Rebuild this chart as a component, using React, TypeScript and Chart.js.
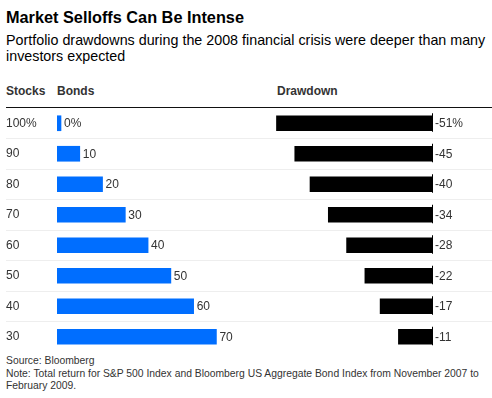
import React, { useEffect, useRef } from 'react';
import { Chart, registerables } from 'chart.js';

Chart.register(...registerables);

const stocks = ['100%', '90', '80', '70', '60', '50', '40', '30'];
const bonds = [0, 10, 20, 30, 40, 50, 60, 70];
const drawdown = [-51, -45, -40, -34, -28, -22, -17, -11];

const FONT = '"Liberation Sans", Arial, Helvetica, sans-serif';
const BLUE = '#006eff';
const TEXT = '#333333';

export default function App() {
  const ref = useRef<HTMLCanvasElement>(null);

  useEffect(() => {
    if (!ref.current) return;
    const labelPlugin = {
      id: 'valueLabels',
      afterDatasetsDraw(chart: any) {
        const ctx = chart.ctx;
        ctx.save();
        ctx.font = `12px ${FONT}`;
        ctx.textBaseline = 'middle';
        ctx.textAlign = 'left';
        const m0 = chart.getDatasetMeta(0);
        m0.data.forEach((el: any, i: number) => {
          ctx.fillStyle = TEXT;
          ctx.fillText(`${bonds[i]}${i === 0 ? '%' : ''}`, el.x + 3, el.y + 0.5);
        });
        const x2 = chart.scales.x2;
        const zero = Math.round(x2.getPixelForValue(0));
        const m1 = chart.getDatasetMeta(1);
        m1.data.forEach((el: any, i: number) => {
          ctx.fillStyle = '#000';
          ctx.fillRect(zero, el.y - 10, 1, 18.5);
          ctx.fillStyle = TEXT;
          ctx.fillText(`${drawdown[i]}${i === 0 ? '%' : ''}`, zero + 3, el.y + 0.5);
        });
        ctx.restore();
      },
    };

    const chart = new Chart(ref.current, {
      type: 'bar',
      data: {
        labels: stocks,
        datasets: [
          {
            label: 'Bonds',
            data: bonds,
            backgroundColor: BLUE,
            xAxisID: 'x',
            grouped: false,
            barThickness: 15,
            minBarLength: 4,
            clip: 0,
          } as any,
          {
            label: 'Drawdown',
            data: drawdown,
            backgroundColor: '#000000',
            xAxisID: 'x2',
            grouped: false,
            barThickness: 15,
          } as any,
        ],
      },
      options: {
        indexAxis: 'y',
        responsive: false,
        animation: false,
        layout: { padding: { left: 6, right: 0, top: 0, bottom: 0 } },
        plugins: {
          legend: { display: false },
          tooltip: { enabled: false },
          title: { display: false },
        },
        scales: {
          x: { type: 'linear', axis: 'x', display: false, min: 0, max: 191 },
          x2: { type: 'linear', axis: 'x', display: false, min: -123, max: 19.7 },
          y: {
            position: 'left',
            afterFit: (s: any) => {
              s.width = 51;
              s.paddingTop = 0;
              s.paddingBottom = 0;
            },
            border: { display: false },
            grid: {
              offset: true,
              drawTicks: true,
              tickLength: 51,
              lineWidth: 1,
              color: (c: any) => (c.index === 0 || c.index === 8 ? 'rgba(0,0,0,0)' : '#eeeeee'),
            },
            ticks: {
              crossAlign: 'far',
              padding: 0,
              color: TEXT,
              font: { size: 12, family: FONT },
            },
          },
        },
      } as any,
      plugins: [labelPlugin],
    });
    return () => chart.destroy();
  }, []);

  return (
    <div
      style={{
        position: 'absolute',
        left: 0,
        top: 0,
        width: 492,
        height: 398,
        background: '#ffffff',
        fontFamily: FONT,
        color: '#000',
        overflow: 'hidden',
      }}
    >
      <div style={{ position: 'absolute', left: 6, top: 7, fontSize: 16.3, lineHeight: '20px', fontWeight: 'bold', whiteSpace: 'nowrap' }}>
        Market Selloffs Can Be Intense
      </div>
      <div style={{ position: 'absolute', left: 6, top: 31.5, fontSize: 14.3, lineHeight: '16px', whiteSpace: 'nowrap' }}>
        Portfolio drawdowns during the 2008 financial crisis were deeper than many
        <br />
        investors expected
      </div>
      <div style={{ position: 'absolute', left: 6, top: 84, fontSize: 12, lineHeight: '14px', fontWeight: 'bold', color: TEXT }}>Stocks</div>
      <div style={{ position: 'absolute', left: 57, top: 84, fontSize: 12, lineHeight: '14px', fontWeight: 'bold', color: TEXT }}>Bonds</div>
      <div style={{ position: 'absolute', left: 277, top: 84, fontSize: 12, lineHeight: '14px', fontWeight: 'bold', color: TEXT }}>Drawdown</div>
      <div style={{ position: 'absolute', left: 6, top: 107, width: 486, height: 1, background: '#111' }} />
      <canvas ref={ref} width={492} height={244} style={{ position: 'absolute', left: 0, top: 108, width: 492, height: 244, display: 'block' }} />
      <div style={{ position: 'absolute', left: 6, top: 355, fontSize: 10.35, lineHeight: '12.5px', color: TEXT, whiteSpace: 'nowrap' }}>
        Source: Bloomberg
        <br />
        Note: Total return for S&amp;P 500 Index and Bloomberg US Aggregate Bond Index from November 2007 to
        <br />
        February 2009.
      </div>
    </div>
  );
}
